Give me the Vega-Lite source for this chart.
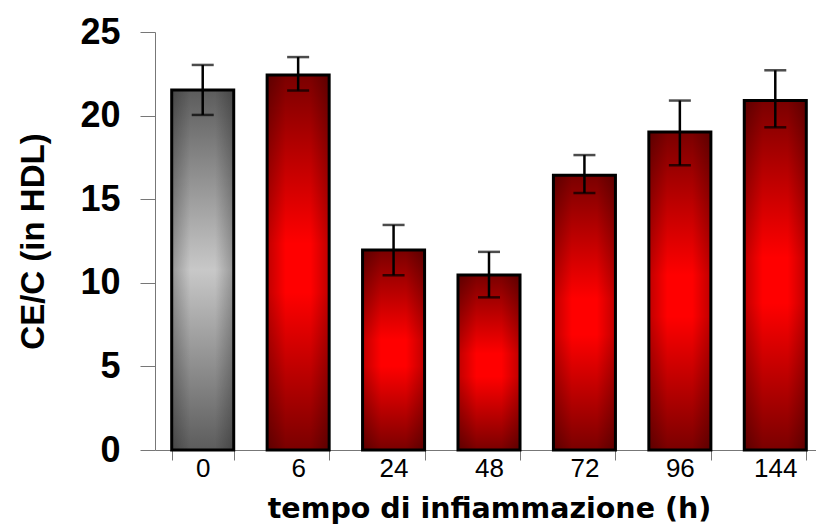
{
  "$schema": "https://vega.github.io/schema/vega-lite/v6.json",
  "autosize": {"type": "none"},
  "padding": {"left": 155, "top": 32, "right": 0, "bottom": 77},
  "width": 661,
  "height": 418,
  "background": "white",
  "config": {"view": {"stroke": null}, "font": "Liberation Sans"},
  "data": {"values": [
    {"t": "0", "v": 21.53, "lo": 20.04, "hi": 23.03, "g": "ctrl"},
    {"t": "6", "v": 22.43, "lo": 21.5, "hi": 23.5, "g": "infl"},
    {"t": "24", "v": 11.96, "lo": 10.45, "hi": 13.46, "g": "infl"},
    {"t": "48", "v": 10.47, "lo": 9.13, "hi": 11.85, "g": "infl"},
    {"t": "72", "v": 16.43, "lo": 15.37, "hi": 17.64, "g": "infl"},
    {"t": "96", "v": 19.02, "lo": 17.03, "hi": 20.9, "g": "infl"},
    {"t": "144", "v": 20.91, "lo": 19.3, "hi": 22.71, "g": "infl"}
  ]},
  "encoding": {
    "x": {
      "field": "t", "type": "ordinal", "sort": null,
      "scale": {"range": [0, 668], "paddingInner": 0.35, "paddingOuter": 0.175},
      "axis": {
        "title": "tempo di infiammazione (h)",
        "titleFont": "DejaVu Sans", "titleFontSize": 28.5, "titleFontWeight": "bold",
        "titleColor": "black", "titlePadding": 13,
        "labelFont": "Liberation Sans", "labelFontSize": 26, "labelFontWeight": "normal",
        "labelColor": "black", "labelPadding": -5, "labelAngle": 0,
        "tickBand": "extent", "tickOffset": 16.7, "tickSize": 10, "tickColor": "#777", "tickWidth": 1,
        "domainColor": "#777", "domainWidth": 1
      }
    }
  },
  "layer": [
    {
      "transform": [{"filter": "datum.g == 'ctrl'"}],
      "mark": {"type": "bar", "color": {"gradient": "linear", "x1": 0, "y1": 0, "x2": 0, "y2": 1,
        "stops": [{"offset": 0, "color": "#5c5c5c"}, {"offset": 0.5, "color": "#c8c8c8"}, {"offset": 1, "color": "#5c5c5c"}]}},
      "encoding": {
        "y": {"field": "v", "type": "quantitative",
          "scale": {"domain": [0, 25], "nice": false},
          "axis": {
            "title": "CE/C (in HDL)", "titleFont": "Liberation Sans", "titleFontSize": 33, "titleFontWeight": "bold",
            "titleColor": "black", "titlePadding": 29,
            "values": [0, 5, 10, 15, 20, 25],
            "labelFont": "Liberation Sans", "labelFontSize": 36, "labelFontWeight": "bold", "labelColor": "black",
            "labelPadding": 20, "tickSize": 15, "tickColor": "#777", "domainColor": "#777", "grid": false
          }
        }
      }
    },
    {
      "transform": [{"filter": "datum.g == 'infl'"}],
      "mark": {"type": "bar", "color": {"gradient": "linear", "x1": 0, "y1": 0, "x2": 0, "y2": 1,
        "stops": [{"offset": 0, "color": "#7a0000"}, {"offset": 0.45, "color": "#ff0000"}, {"offset": 0.58, "color": "#ff0000"}, {"offset": 1, "color": "#7a0000"}]}},
      "encoding": {"y": {"field": "v", "type": "quantitative"}}
    },
    {
      "mark": {"type": "bar", "stroke": "black", "strokeWidth": 3,
        "fill": {"gradient": "linear", "x1": 0, "y1": 0, "x2": 1, "y2": 0,
          "stops": [{"offset": 0, "color": "rgba(0,0,0,0.25)"}, {"offset": 0.3, "color": "rgba(0,0,0,0)"}, {"offset": 0.7, "color": "rgba(0,0,0,0)"}, {"offset": 1, "color": "rgba(0,0,0,0.25)"}]}},
      "encoding": {"y": {"field": "v", "type": "quantitative"}}
    },
    {
      "mark": {"type": "rule", "color": "black", "strokeWidth": 2.5},
      "encoding": {"y": {"field": "lo", "type": "quantitative"}, "y2": {"field": "hi"}}
    },
    {
      "mark": {"type": "tick", "color": "black", "size": 22, "thickness": 2.5, "orient": "horizontal"},
      "encoding": {"y": {"field": "lo", "type": "quantitative"}}
    },
    {
      "mark": {"type": "tick", "color": "black", "size": 22, "thickness": 2.5, "orient": "horizontal"},
      "encoding": {"y": {"field": "hi", "type": "quantitative"}}
    }
  ]
}
